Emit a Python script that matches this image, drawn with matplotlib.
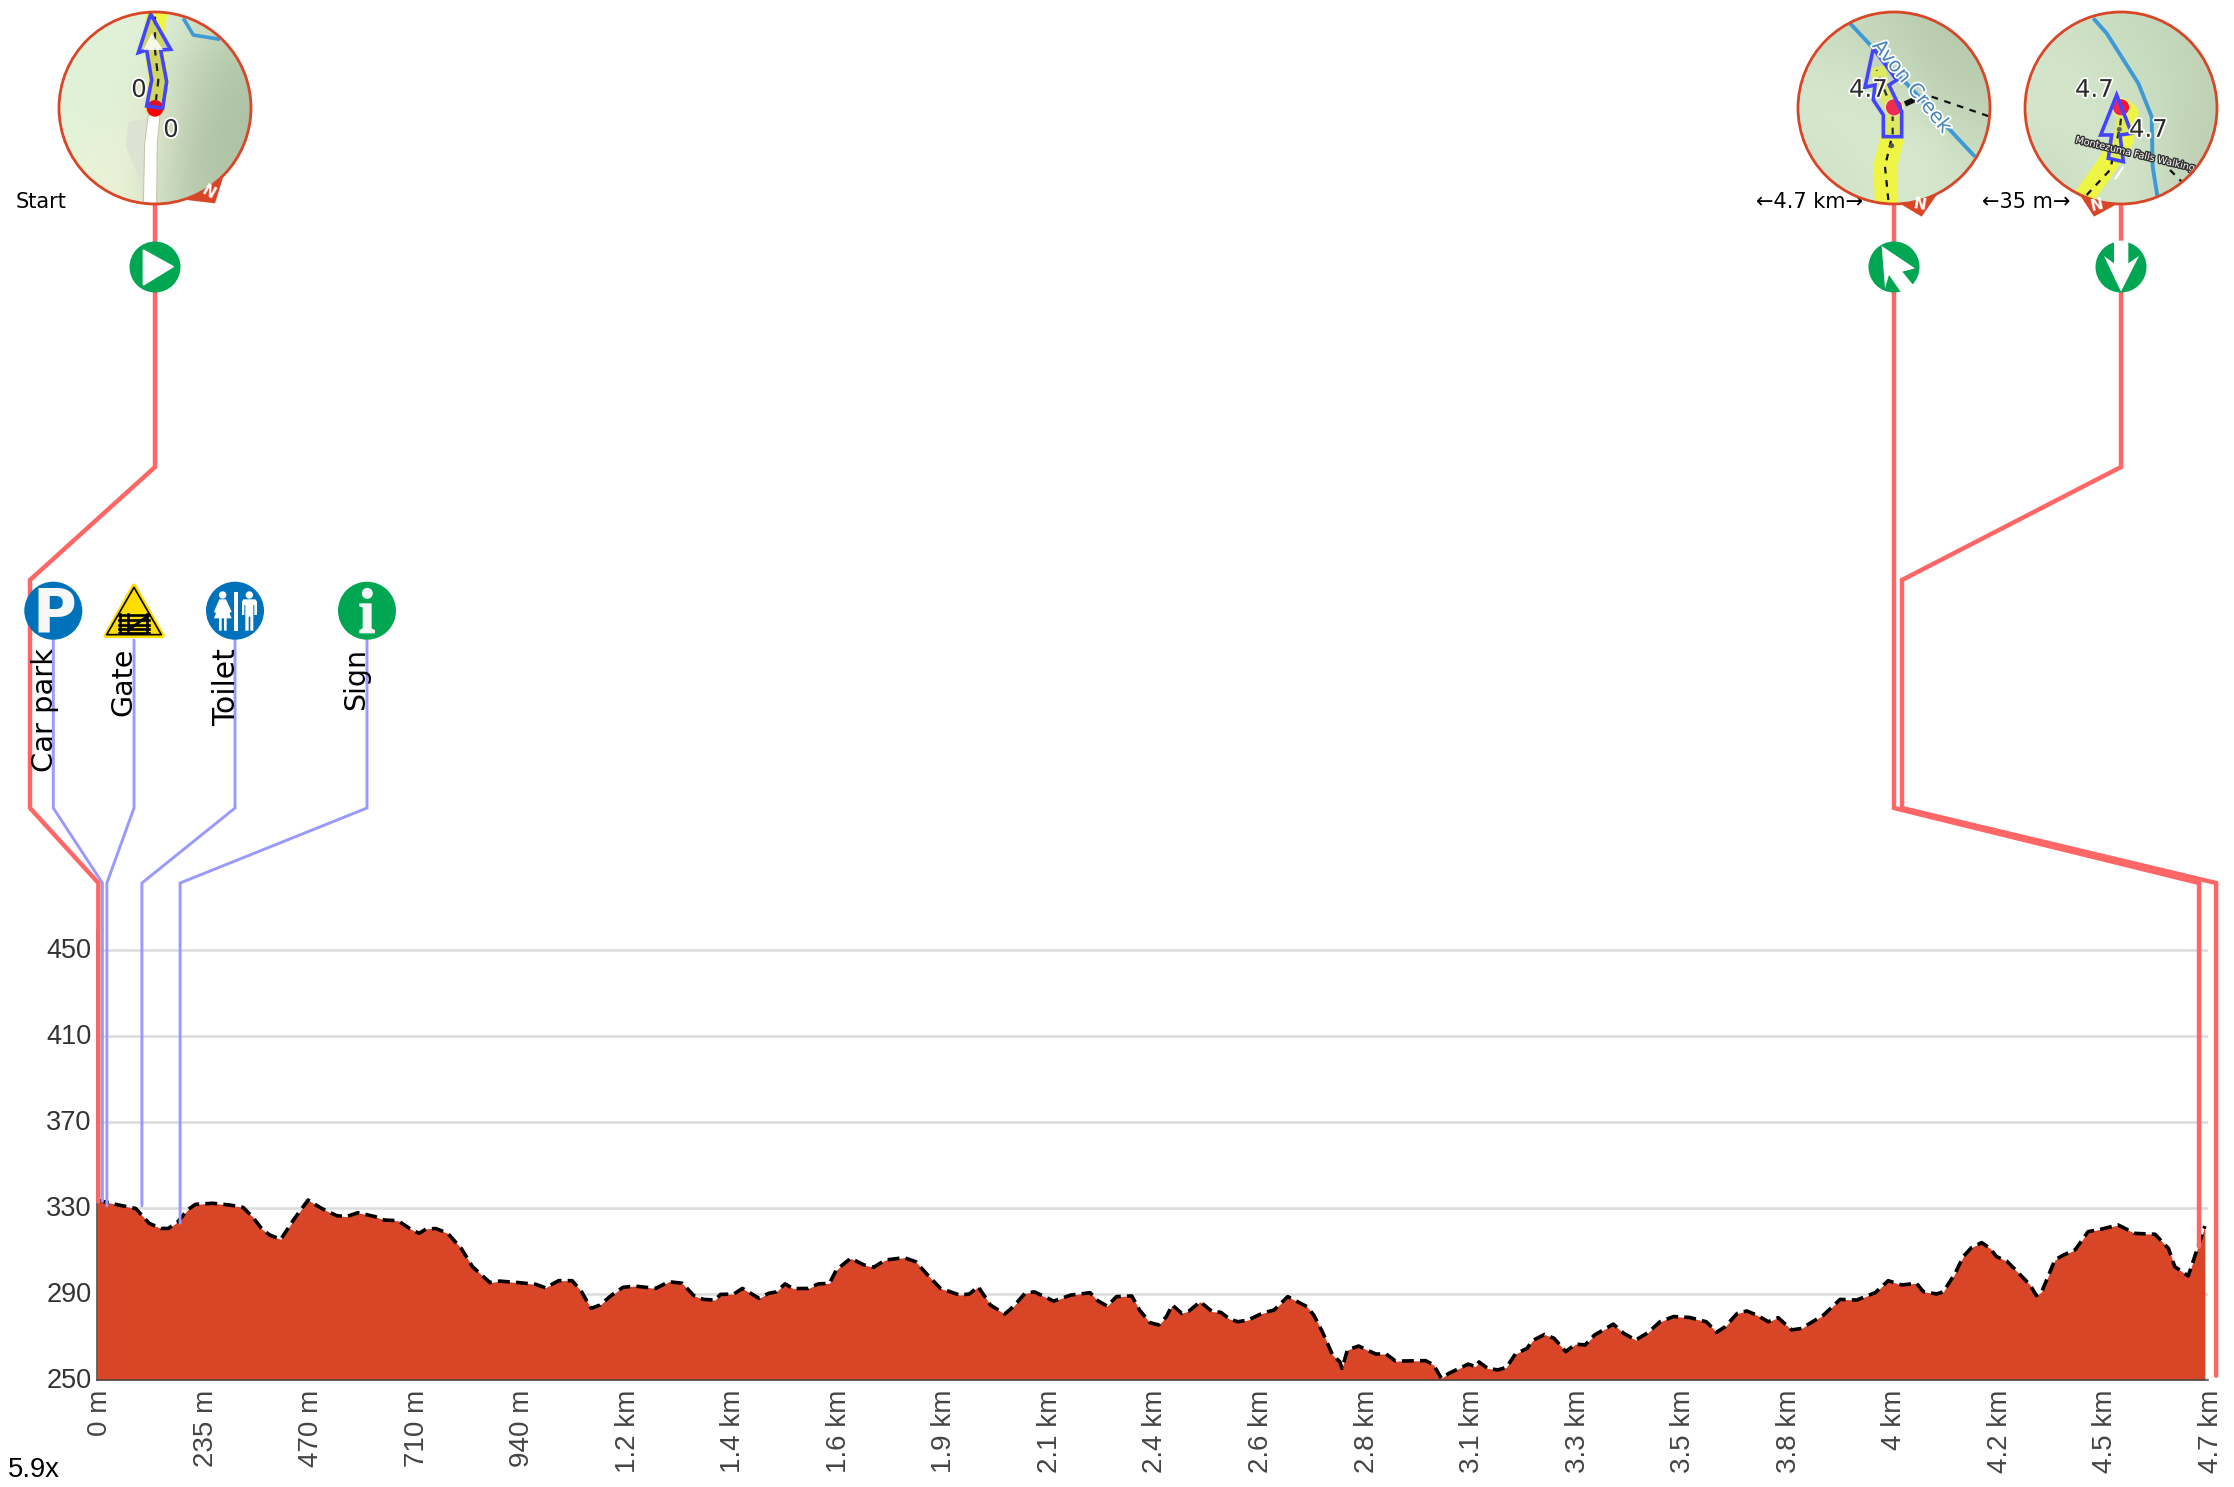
import numpy as np
import matplotlib
matplotlib.use("Agg")
import matplotlib.pyplot as plt
import matplotlib.patheffects as pe
from matplotlib.colors import to_rgb
from matplotlib.patches import Circle, Polygon, Rectangle
from matplotlib.transforms import Affine2D

# ---------- data ----------
profile_m = [0,48,86,116,142,159,180,201,219,257,295,325,346,368,385,409,440,470,500,534,555,581,619,640,670,696,717,734,755,781,811,836,875,896,939,977,998,1028,1058,1079,1100,
 1120,1146,1171,1197,1244,1273,1303,1329,1350,1376,1388,1418,1437,1474,1495,1512,1532,1550,1584,1606,1631,1646,1678,1708,1729,1755,1797,1823,1853,1878,1921,1942,1962,1989,2021,2040,2066,2087,2130,2168,2211,2228,2249,2270,2304,2321,2344,2364,2381,2394,2415,2432,
 2456,2483,2502,2521,2540,2563,2594,2621,2651,2694,2709,2728,2751,2767,2772,2784,2809,2847,2870,2891,2958,2976,2993,3010,3053,3069,3077,3096,3119,3138,3158,3184,3196,3223,3244,3270,3292,3313,3334,3376,3399,3426,3453,3480,3510,3545,3583,3606,3625,3652,
 3673,3695,3721,3743,3773,3795,3844,3881,3918,3959,3988,4018,4051,4066,4096,4111,4137,4155,4174,4196,4215,4229,4252,4270,4304,4318,4330,4359,4378,4404,4433,4463,4500,4537,4582,4612,4626,4656,4693]
profile_elev = [333.7,331.4,329.8,322.9,320.5,320.5,323.6,329,331.7,332.2,331.4,330.3,326,320,317.4,315.4,325.2,333.7,329.8,326.4,326,327.8,326,324.4,324.1,320.5,318.2,320.4,320.4,318.2,311.2,302.7,295.3,296,295.3,294.5,292.9,296.2,296.2,291,283.3,
 284.9,289.5,293.1,293.7,292.6,295.7,295,289.2,287.5,287.2,289.8,290,292.6,288,290.3,291,294.7,292.5,292.6,294.7,295,301.2,306.6,303.5,302.4,305.8,306.9,305,298,292.6,289.5,290,293.4,284.9,280.7,284.1,290.3,291,286.7,289.5,290.6,286.9,284.4,288.8,289.1,282.6,276.7,275.6,279.5,284.9,281,282.2,
 286.4,281.8,281.5,278.4,277.1,277.9,281,282.6,288.8,284.1,280.2,272.5,261.6,258.5,255.4,264,265.8,262.1,262.1,258.8,259,257,250.8,253.1,257.4,256.2,258.4,255.4,254.7,255.9,262.1,264.7,268.3,271.2,269.4,263.2,266.7,266.3,270.9,276,271.7,268.6,272,277.1,279.5,279.1,277.1,272.2,274.8,281,
 282.1,280.2,277.1,279,273.3,274,280.2,287.5,287.2,290.6,296.2,294.2,295,291.1,290,291.1,299.6,307.4,311.7,313.9,311.2,307.4,305.3,301.5,294.2,289.2,291.1,305.8,308.1,310.5,319,320.2,322.1,318.2,317.8,311.2,302.7,298.4,321.6]

x_tick_labels = ["0 m","235 m","470 m","710 m","940 m","1.2 km","1.4 km","1.6 km","1.9 km","2.1 km","2.4 km",
                 "2.6 km","2.8 km","3.1 km","3.3 km","3.5 km","3.8 km","4 km","4.2 km","4.5 km","4.7 km"]
y_tick_values = [250,290,330,370,410,450]

poi_names = ["Car park","Gate","Toilet","Sign"]
poi_dist_m = [12,22,100,185]
poi_elev = [333,331,331,323]
turn_names = ["Start","←4.7 km→","←35 m→"]
turn_dist_m = [3,4680,4718]
turn_elev = [333,312,252]

# ---------- layout ----------
W, H = 2234, 1487
LEFT, RIGHT, BASE, TOP = 97, 2208, 1380, 930
FILL, RED, BLUE, GREEN, PBLUE = "#d94527", "#ff6666", "#9999ff", "#00a651", "#0072bc"
ARROW, RIVER, ROUTE = "#4444ff", "#3d9ad6", "#eef545"

fig = plt.figure(figsize=(W/100, H/100), dpi=100, facecolor="white")
ax = fig.add_axes([LEFT/W, (H-BASE)/H, (RIGHT-LEFT)/W, (BASE-TOP)/H])
ax.set_xlim(0, 4700)
ax.set_ylim(250, 250+(BASE-TOP)/2.15)
ax.fill_between(profile_m, profile_elev, 250, color=FILL, lw=0, zorder=3)
ax.plot(profile_m, profile_elev, color="black", lw=2.6, dashes=(3.3, 1.7), zorder=4)
ax.set_yticks(y_tick_values)
ax.set_xticks(np.linspace(0, 4700, len(x_tick_labels)))
ax.set_xticklabels(x_tick_labels, rotation=90, ha="center", va="top", fontsize=20,
                   family="Liberation Sans", color="#444444")
ax.set_yticklabels([str(v) for v in y_tick_values], fontsize=19.5, family="Liberation Sans", color="#333333")
ax.tick_params(axis="both", length=0, pad=4)
ax.tick_params(axis="x", pad=7)
for t in ax.get_xticklabels():
    t.set_transform(t.get_transform() + Affine2D().translate(3, 0))
for t in ax.get_yticklabels():
    t.set_transform(t.get_transform() + Affine2D().translate(0, 2.5))
ax.grid(axis="y", color="#dddddd", lw=1.9, zorder=1)
ax.set_axisbelow(True)
for s in ("top", "right"):
    ax.spines[s].set_visible(False)
for s in ("left", "bottom"):
    ax.spines[s].set_color("#444444")
    ax.spines[s].set_linewidth(1.1)
    ax.spines[s].set_zorder(5)

ov = fig.add_axes([0, 0, 1, 1], facecolor="none")
ov.set_xlim(0, W)
ov.set_ylim(H, 0)
ov.axis("off")

fig.canvas.draw()
def anchor(d, e):
    x, y = ax.transData.transform((d, e))
    return x, H - y

def connector(pts, color, lw):
    xs, ys = zip(*pts)
    ov.plot(xs, ys, color=color, lw=lw, solid_joinstyle="miter", solid_capstyle="round", zorder=2)

# connectors
icon_x = [53.3, 134, 235, 367]
for d, e, ix in zip(poi_dist_m, poi_elev, icon_x):
    ax_, ay = anchor(d, e)
    connector([(ix, 640), (ix, 808), (ax_, 883), (ax_, ay)], BLUE, 2.1)
ends = [anchor(d, e) for d, e in zip(turn_dist_m, turn_elev)]
connector([(155, 200), (155, 467), (30, 580), (30, 808), (ends[0][0], 883), ends[0]], RED, 3.2)
connector([(1894, 200), (1894, 808), (ends[1][0], 883), ends[1]], RED, 3.2)
connector([(2121, 200), (2121, 467), (1902, 580), (1902, 808), (ends[2][0], 883), ends[2]], RED, 3.2)

# POI icons
for x, c in ((53.3, PBLUE), (235, PBLUE), (367, GREEN)):
    ov.add_patch(Circle((x, 610.7), 29, fc=c, ec="none", zorder=4))
ov.text(54, 631.7, "P", color="#f7f7f7", fontsize=43, fontweight="bold", ha="center", va="baseline",
        family="DejaVu Sans", zorder=5)
Z3 = lambda p: [(a/3, 560+b/3) for a, b in p]
ov.add_patch(Polygon(Z3([(402,78),(487,227),(318,227)]), fc="#ffdd00", ec="#ffdd00", lw=3.5, joinstyle="round", zorder=4))
ov.add_patch(Polygon(Z3([(402,82),(484,224),(320,224)]), fc="none", ec="black", lw=1.2, joinstyle="round", zorder=5))
for yy in (165,180,195,208,218):
    ov.plot([357/3, 447/3], [560+yy/3]*2, color="black", lw=1.9, zorder=5)
for xx in (360,385,440):
    ov.plot([xx/3]*2, [560+163/3, 560+220/3], color="black", lw=1.9, zorder=5)
ov.plot([385/3, 440/3], [560+210/3, 560+170/3], color="black", lw=1.9, zorder=5)
# toilet
ov.add_patch(Rectangle((703/3, 560+97/3), 10/3, 115/3, fc="white", zorder=5))
ov.add_patch(Circle((668/3, 560+105/3), 3.7, fc="white", zorder=5))
ov.add_patch(Circle((748/3, 560+105/3), 3.7, fc="white", zorder=5))
ov.add_patch(Polygon(Z3([(658,118),(678,118),(695,155),(688,160),(680,140),(695,175),(680,175),(680,212),(672,212),(672,175),(665,175),(665,212),(657,212),(657,175),(642,175),(656,140),(648,160),(642,155)]), fc="white", zorder=5))
ov.add_patch(Polygon(Z3([(730,118),(766,118),(771,125),(771,165),(763,165),(763,135),(760,135),(760,212),(751,212),(751,170),(746,170),(746,212),(736,212),(736,135),(733,135),(733,165),(726,165),(726,125)]), fc="white", zorder=5))
# info
ov.add_patch(Circle((1102/3, 560+100/3), 5.5, fc="#f7f7f7", zorder=5))
ov.add_patch(Polygon(Z3([(1078,130),(1115,130),(1115,205),(1125,210),(1125,220),(1078,220),(1078,210),(1088,205),(1088,142),(1078,140)]), fc="#f7f7f7", zorder=5))

# POI labels
for name, x, fs in zip(poi_names, (53, 131, 235, 364.5), (20.8, 20.5, 21.5, 20.5)):
    ov.text(x, 648, name, rotation=90, rotation_mode="anchor", ha="right", va="baseline",
            fontsize=fs, color="black", family="DejaVu Sans", zorder=6)

# turn icons
for x in (155, 1894, 2121):
    ov.add_patch(Circle((x, 267), 25.5, fc=GREEN, ec="none", zorder=4))
ov.add_patch(Polygon([(a/3, b/3) for a, b in [(430,750),(520,800),(430,855)]], fc="white", ec="white", lw=1, zorder=5))
ov.add_patch(Polygon([(1740+a/3, b/3) for a, b in [(425,738),(525,805),(487,815),(530,868),(485,880),(447,825),(435,865)]], fc="white", zorder=5))
ov.add_patch(Polygon([(1740+a/3, b/3) for a, b in [(1143,875),(1092,768),(1122,790),(1122,722),(1165,722),(1165,790),(1197,768)]], fc="white", zorder=5))

# turn labels
for name, x in zip(turn_names, (41.2, 1809, 2026.5)):
    ov.text(x, 202, name, ha="center", va="center", fontsize=15, color="black", family="DejaVu Sans", zorder=6)
ov.text(8, 1470, "5.9x", ha="left", va="center", fontsize=19.8, family="Liberation Sans", color="black", zorder=6)

# ---------- map insets ----------
halo = [pe.withStroke(linewidth=2.5, foreground="white")]
CIRC = [(155, 108), (1894, 108), (2121, 108)]
bg1 = ["e0f2d8 e0f2d8 dff0d6 cfe2c6 bfd2b5","e0f2d8 e0f2d8 dcecd2 c0d4b6 b2c6aa","e0f2d8 e0f2d8 e2e8cc bccfb2 aec2a6","e4f2d6 e9f2d6 e2e8cc b4c8ac aec2a6","e9f2d6 eef3d8 d5e4c8 b4c8ac b4c8ac"]
bg2 = ["c8dcc0 c6d9bd c0d3b6 b8cbae b8cbae","d2e4ca cfe1c6 c8dbbf bdd0b4 b8cbae","d5e7cc d5e7cc d2e4c9 c8dabe bfd2b5","d2e4ca d5e7cc d8ebcf d5e7cc c8dbbf","cfe1c6 d2e4ca d5e7cc d5e7cc cfe1c6"]
bg3 = ["d0e2c8 cce0c4 c8dcc0 c4d8bc c0d3b6","d3e5cb d2e4ca cde0c4 c8dcc0 c0d3b6","d3e5cb d2e4ca d0e2c8 c8dcc0 bfd2b5","cfe1c6 d2e4ca d2e4ca cbdec2 bdd0b4","c8dcc0 d0e2c8 d2e4ca cbdec2 bdd0b4"]

def base_map(c, bg):
    cx, cy = c
    img = np.array([[to_rgb("#"+v) for v in row.split()] for row in bg])
    clip = Circle(c, 96, transform=ov.transData)
    im = ov.imshow(img, extent=(cx-96, cx+96, cy+96, cy-96), interpolation="bicubic", aspect="auto", zorder=7)
    im.set_clip_path(clip)
    ov.set_xlim(0, W); ov.set_ylim(H, 0)
    return clip

def stroke(clip, P, color, lw, z=8, **kw):
    xs, ys = zip(*P)
    l, = ov.plot(xs, ys, color=color, lw=lw, zorder=z, solid_capstyle=kw.pop("cap", "butt"), **kw)
    l.set_clip_path(clip)
    return l

def poly(clip, P, z=8, **kw):
    p = Polygon(P, zorder=z, **kw)
    ov.add_patch(p)
    if clip is not None:
        p.set_clip_path(clip)
    return p

def frame(c, tail, n_xy, n_rot):
    poly(None, tail, z=6.5, fc=FILL, ec="none")
    ov.add_patch(Circle(c, 96, fc="none", ec=FILL, lw=2, zorder=12))
    ov.text(n_xy[0], n_xy[1], "N", color="white", fontsize=11, fontweight="bold", rotation=n_rot, ha="center", va="center",
            family="DejaVu Sans", zorder=13)

def lab(x, y, s):
    ov.text(x, y+1.5, s, fontsize=17.5, color="#2a2a2a", ha="center", va="center", family="DejaVu Sans", path_effects=halo, zorder=11)

# map 1
Za = lambda p: [(a/3, b/3) for a, b in p]
c1 = base_map(CIRC[0], bg1)
stroke(c1, Za([(550,55),(580,105),(660,118)]), RIVER, 2.6)
poly(c1, Za([(385,365),(440,355),(432,420),(432,605),(415,530),(378,440)]), fc="#dde3d2", ec="none")
poly(c1, Za([(445,345),(480,345),(472,430),(470,610),(430,610),(434,430)]), fc="white", ec="#c9c4b0", lw=0.8)
poly(c1, Za([(437,35),(503,35),(490,130),(507,245),(495,330),(465,352),(435,330),(445,240),(430,130)]), fc=ROUTE, ec="none")
ov.add_patch(Circle((465/3, 325/3), 8.3, fc="#ff0000", ec="none", zorder=9))
poly(c1, Za([(452,42),(512,148),(482,150),(500,245),(488,325),(440,318),(455,240),(440,150),(415,158)]), z=10, fc=(0.35,0.35,0.8,0.2), ec=ARROW, lw=2.6, joinstyle="miter")
stroke(c1, Za([(465,50),(465,150),(475,240),(468,300)]), "#111111", 1.6, z=9, dashes=(3.5, 3.5))
poly(c1, Za([(430,150),(455,100),(490,150)]), z=10, fc="white", ec="none", alpha=0.85)
lab(417/3, 265/3, "0"); lab(513/3, 385/3, "0")
frame(CIRC[0], Za([(560,600),(670,530),(645,610)]), (625/3, 578/3), -30)

# map 2
Zb = lambda p: [(1740+a/3, b/3) for a, b in p]
c2 = base_map(CIRC[1], bg2)
stroke(c2, Zb([(330,70),(705,470)]), RIVER, 2.8)
stroke(c2, Zb([(440,610),(435,500),(458,410)]), ROUTE, 17)
stroke(c2, Zb([(458,410),(458,320),(425,255),(413,200)]), ROUTE, 11, z=8, solid_joinstyle="round")
stroke(c2, Zb([(445,600),(435,500),(458,400),(458,330),(425,250),(410,210)]), "#111111", 1.6, z=9, dashes=(3, 3))
stroke(c2, Zb([(575,290),(750,350)]), "#111111", 1.6, z=9, dashes=(3, 3))
stroke(c2, Zb([(495,312),(525,298)]), "#111111", 4, z=9)
ov.add_patch(Circle((1740+462/3, 322/3), 8.7, fc="#ff1030", ec="#ffffaa", lw=0.8, zorder=9))
ov.add_patch(Circle((1740+455/3, 437/3), 2.5, fc="#555555", zorder=9))
poly(c2, Zb([(400,145),(470,240),(447,255),(485,335),(485,410),(430,410),(430,345),(400,300),(405,255),(375,262)]), z=10, fc=(0.6,0.7,0.9,0.18), ec=ARROW, lw=2.6, joinstyle="miter")
ov.text(1740+515/3, 260/3, "Avon Creek", fontsize=14.4, rotation=-51, rotation_mode="anchor", color="#4a86b8", ha="center", va="center",
        family="DejaVu Sans", path_effects=halo, zorder=10)
lab(1740+385/3, 265/3, "4.7")
frame(CIRC[1], Zb([(470,605),(590,585),(545,650)]), (1740+538/3, 615/3), -10)

# map 3
c3 = base_map(CIRC[2], bg3)
stroke(c3, Zb([(1060,55),(1100,100),(1195,250),(1235,350),(1238,500),(1252,588)]), RIVER, 2.8)
stroke(c3, Zb([(1030,595),(1090,510),(1150,420),(1165,340),(1140,320)]), ROUTE, 15, solid_joinstyle="round")
stroke(c3, Zb([(1040,585),(1110,510),(1140,380),(1145,340)]), "#111111", 1.6, z=9, dashes=(3, 3))
stroke(c3, Zb([(1290,510),(1325,545)]), "#111111", 1.6, z=9, dashes=(3, 3))
stroke(c3, Zb([(1125,538),(1150,500)]), "white", 1.6, z=9)
ov.add_patch(Circle((1740+1143/3, 322/3), 8.7, fc="#ff1030", ec="#ffffaa", lw=0.8, zorder=9))
ov.add_patch(Circle((1740+1138/3, 388/3), 2.5, fc="#555555", zorder=9))
poly(c3, Zb([(1130,285),(1175,400),(1140,405),(1150,485),(1105,475),(1115,405),(1082,405)]), z=10, fc=(0.6,0.7,0.9,0.15), ec=ARROW, lw=2.6, joinstyle="miter")
ov.text(1740+1187/3, 462/3, "Montezuma Falls Walking", fontsize=7, rotation=-13.5, rotation_mode="anchor", color="white",
        ha="center", va="center", family="DejaVu Sans", path_effects=[pe.withStroke(linewidth=2, foreground="#333333")], zorder=10)
lab(1740+1063/3, 265/3, "4.7"); lab(1740+1225/3, 385/3, "4.7")
frame(CIRC[2], Zb([(1010,570),(1135,610),(1062,650)]), (1740+1072/3, 615/3), 12)

fig.savefig("out.png", dpi=100, facecolor="white")
